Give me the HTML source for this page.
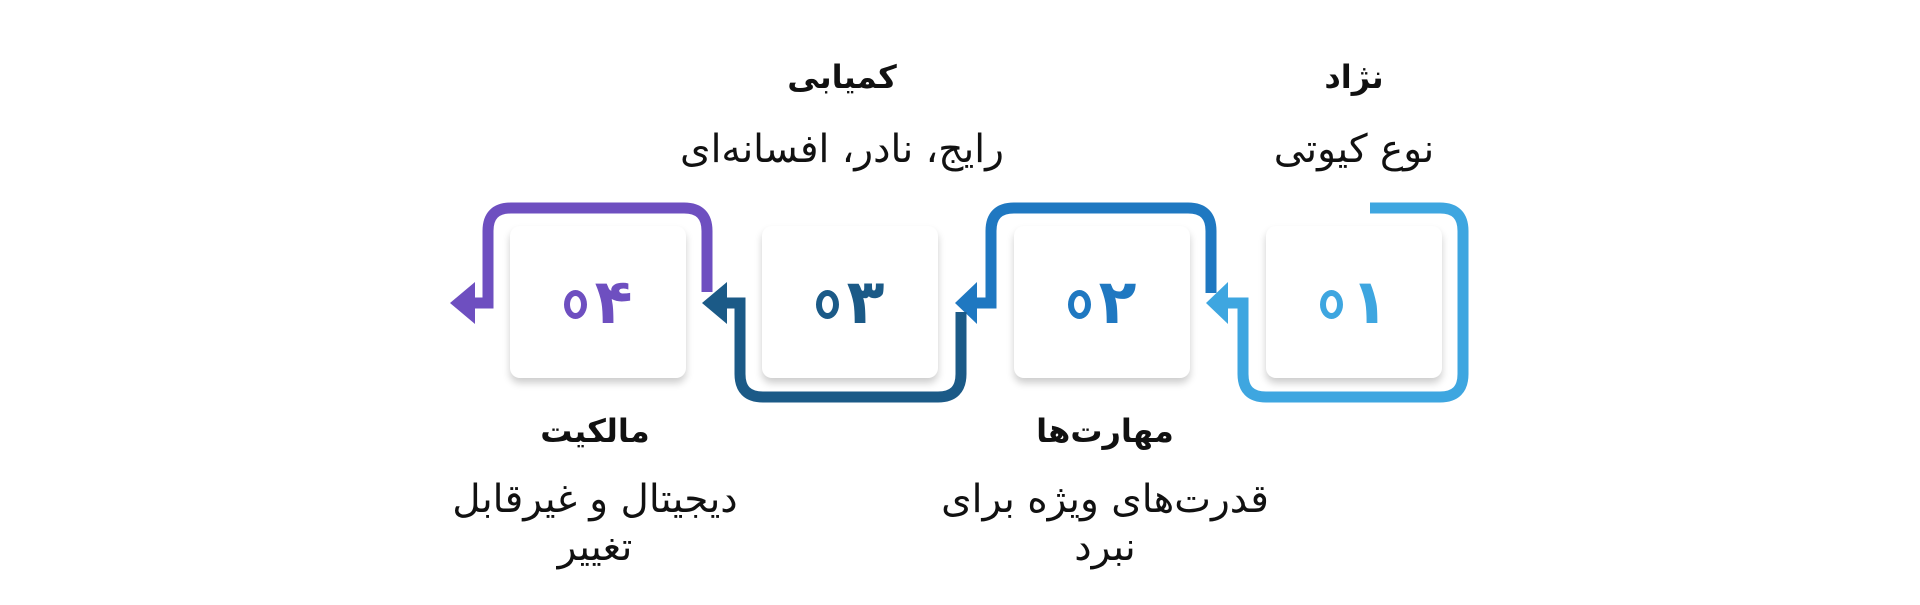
<!DOCTYPE html>
<html><head><meta charset="utf-8"><style>
body{margin:0;width:1920px;height:605px;background:#fff;position:relative;overflow:hidden;font-family:"DejaVu Sans","Liberation Sans",sans-serif;}
.box{position:absolute;top:226px;width:176px;height:152px;background:#fff;border-radius:10px;box-shadow:0 5px 8px rgba(0,0,0,0.2);display:flex;align-items:center;justify-content:center;font-weight:bold;font-size:62px;direction:ltr;}
.z{display:inline-block;width:11px;height:17px;border:6px solid currentColor;border-radius:50%;margin-right:8px;margin-top:4px;}
.d{display:inline-block;line-height:1;}
.t{position:absolute;width:340px;text-align:center;direction:rtl;color:#111;}
.h{font-weight:bold;font-size:32px;}
.s{font-size:39px;line-height:48px;}
</style></head><body>
<svg width="1920" height="605" style="position:absolute;left:0;top:0" fill="none" stroke-width="11">
<path d="M1370 208 H1440 Q1463 208 1463 231 V374 Q1463 397 1440 397 H1266 Q1243 397 1243 374 V303 H1226" stroke="#3ea6e0"/>
<polygon points="1228,282 1228,324 1206,303" fill="#3ea6e0"/>
<path d="M1211 293 V231 Q1211 208 1188 208 H1014 Q991 208 991 231 V303 H975" stroke="#1f78c1"/>
<polygon points="977,282 977,324 955,303" fill="#1f78c1"/>
<path d="M961 312 V374 Q961 397 938 397 H763 Q740 397 740 374 V303 H725" stroke="#1b5a87"/>
<polygon points="727,282 727,324 702,303" fill="#1b5a87"/>
<path d="M707 292 V231 Q707 208 684 208 H511 Q488 208 488 231 V303 H473" stroke="#6e4fc0"/>
<polygon points="475,282 475,324 450,303" fill="#6e4fc0"/>
</svg>
<div class="box" style="left:1266px;color:#3ea6e0"><span class="z"></span><span class="d">۱</span></div>
<div class="box" style="left:1014px;color:#1f78c1"><span class="z"></span><span class="d">۲</span></div>
<div class="box" style="left:762px;color:#1b5a87"><span class="z"></span><span class="d">۳</span></div>
<div class="box" style="left:510px;color:#6e4fc0"><span class="z"></span><span class="d">۴</span></div>
<div class="t h" style="left:1184px;top:58px">نژاد</div>
<div class="t s" style="left:1184px;top:126px">نوع کیوتی</div>
<div class="t h" style="left:672px;top:58px">کمیابی</div>
<div class="t s" style="left:672px;top:126px">رایج، نادر، افسانه‌ای</div>
<div class="t h" style="left:935px;top:412px">مهارت‌ها</div>
<div class="t s" style="left:935px;top:476px">قدرت‌های ویژه برای نبرد</div>
<div class="t h" style="left:425px;top:412px">مالکیت</div>
<div class="t s" style="left:425px;top:476px">دیجیتال و غیرقابل تغییر</div>
</body></html>
